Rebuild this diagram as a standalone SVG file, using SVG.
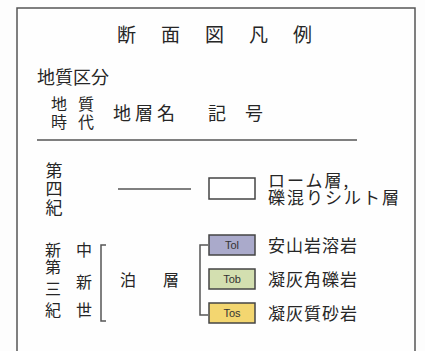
<svg xmlns="http://www.w3.org/2000/svg" width="425" height="351" viewBox="0 0 425 351">
<style>
.t{font-family:"Noto Sans CJK JP","Noto Sans CJK SC",sans-serif;fill:#262626}
.c{text-anchor:middle}
.ln{stroke:#555;stroke-width:1.5;fill:none}
.bx{stroke:#444;stroke-width:1.5}
.code{font-family:"Liberation Sans",Arial,sans-serif;font-size:11px;fill:#333;text-anchor:middle}
</style>
<rect width="425" height="351" fill="#fdfdfd"/>
<rect x="17" y="8" width="398" height="360" fill="#fefefe" stroke="#555" stroke-width="1.5"/>
<g id="title"><text class="t" x="117" y="42" font-size="19" letter-spacing="25">断面図凡例</text></g>
<g id="header">
<text class="t" x="37" y="84" font-size="18">地質区分</text>
<text class="t" x="51" y="109.5" font-size="16" letter-spacing="11">地質</text>
<text class="t" x="51" y="128" font-size="16" letter-spacing="11">時代</text>
<text class="t" x="113" y="120" font-size="18" letter-spacing="4">地層名</text>
<text class="t" x="208" y="120" font-size="18" letter-spacing="19">記号</text>
</g>
<g id="connectors">
<line class="ln" x1="37" y1="140" x2="357" y2="140"/>
<line class="ln" x1="118" y1="189" x2="191" y2="189"/>
<path class="ln" d="M106 245H101V321H106"/>
<path class="ln" d="M208 245H200V315H208"/>
</g>
<g id="quaternary">
<text class="t c" x="54" y="176.5" font-size="17">第</text>
<text class="t c" x="54" y="194.5" font-size="17">四</text>
<text class="t c" x="54" y="213.5" font-size="17">紀</text>
<rect class="bx" x="209" y="178" width="46" height="21" fill="#fff"/>
<text class="t" x="268" y="186.5" font-size="17" letter-spacing="2">ローム層,</text>
<text class="t" x="268" y="204" font-size="17" letter-spacing="2">礫混りシルト層</text>
</g>
<g id="neogene">
<text class="t c" x="53" y="256" font-size="16">新</text>
<text class="t c" x="53" y="273" font-size="16">第</text>
<text class="t c" x="53" y="295" font-size="16">三</text>
<text class="t c" x="53" y="316" font-size="16">紀</text>
<text class="t c" x="84" y="256" font-size="16">中</text>
<text class="t c" x="84" y="288" font-size="16">新</text>
<text class="t c" x="84" y="316" font-size="16">世</text>
<text class="t" x="120" y="286" font-size="16" letter-spacing="27">泊層</text>
</g>
<g id="Tol">
<rect class="bx" x="209" y="235" width="46" height="20" fill="#aaaacb"/>
<text class="code" x="232" y="249">Tol</text>
<text class="t" x="268" y="251.5" font-size="17" letter-spacing="1">安山岩溶岩</text>
</g>
<g id="Tob">
<rect class="bx" x="209" y="269" width="46" height="20" fill="#d3dfb0"/>
<text class="code" x="232" y="283">Tob</text>
<text class="t" x="268" y="285.5" font-size="17" letter-spacing="1">凝灰角礫岩</text>
</g>
<g id="Tos">
<rect class="bx" x="209" y="303" width="46" height="20" fill="#f3d670"/>
<text class="code" x="232" y="317">Tos</text>
<text class="t" x="268" y="319.5" font-size="17" letter-spacing="1">凝灰質砂岩</text>
</g>
</svg>
